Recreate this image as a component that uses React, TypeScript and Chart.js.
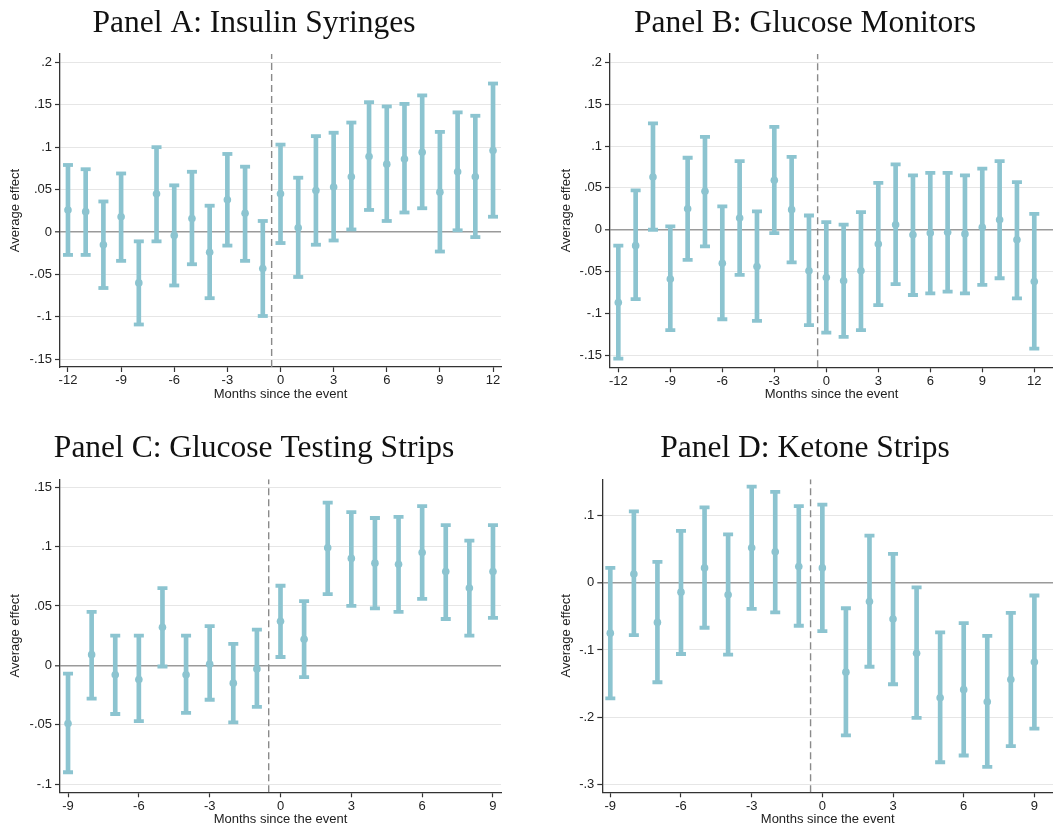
import React, { useEffect, useRef } from "react";
import { Chart, registerables } from "chart.js";

Chart.register(...registerables);

// ---------- data ----------
const monthsLong = [-12, -11, -10, -9, -8, -7, -6, -5, -4, -3, -2, -1, 0, 1, 2, 3, 4, 5, 6, 7, 8, 9, 10, 11, 12];
const monthsShort = [-9, -8, -7, -6, -5, -4, -3, -2, -1, 0, 1, 2, 3, 4, 5, 6, 7, 8, 9];

const aMid = [0.026, 0.024, -0.015, 0.018, -0.060, 0.045, -0.004, 0.016, -0.024, 0.038, 0.022, -0.043, 0.045, 0.005, 0.049, 0.053, 0.065, 0.089, 0.080, 0.086, 0.094, 0.047, 0.071, 0.065, 0.096];
const aLo = [-0.027, -0.027, -0.066, -0.034, -0.109, -0.011, -0.063, -0.038, -0.078, -0.016, -0.034, -0.099, -0.013, -0.053, -0.015, -0.010, 0.003, 0.026, 0.013, 0.023, 0.028, -0.023, 0.002, -0.006, 0.018];
const aHi = [0.079, 0.074, 0.036, 0.069, -0.011, 0.100, 0.055, 0.071, 0.031, 0.092, 0.077, 0.013, 0.103, 0.064, 0.113, 0.117, 0.129, 0.153, 0.148, 0.151, 0.161, 0.118, 0.141, 0.137, 0.175];

const bMid = [-0.087, -0.019, 0.063, -0.059, 0.025, 0.046, -0.040, 0.014, -0.044, 0.059, 0.024, -0.049, -0.057, -0.061, -0.049, -0.017, 0.006, -0.006, -0.004, -0.003, -0.005, 0.003, 0.012, -0.012, -0.062];
const bLo = [-0.154, -0.083, 0.000, -0.120, -0.036, -0.020, -0.107, -0.054, -0.109, -0.004, -0.039, -0.114, -0.123, -0.128, -0.120, -0.090, -0.065, -0.078, -0.076, -0.074, -0.076, -0.066, -0.058, -0.082, -0.142];
const bHi = [-0.019, 0.047, 0.127, 0.004, 0.086, 0.111, 0.028, 0.082, 0.022, 0.123, 0.087, 0.017, 0.009, 0.006, 0.021, 0.056, 0.078, 0.065, 0.068, 0.068, 0.065, 0.073, 0.082, 0.057, 0.019];

const cMid = [-0.049, 0.009, -0.008, -0.012, 0.032, -0.008, 0.001, -0.015, -0.003, 0.037, 0.022, 0.099, 0.090, 0.086, 0.085, 0.095, 0.079, 0.065, 0.079];
const cLo = [-0.090, -0.028, -0.041, -0.047, -0.001, -0.040, -0.029, -0.048, -0.035, 0.007, -0.010, 0.060, 0.050, 0.048, 0.045, 0.056, 0.039, 0.025, 0.040];
const cHi = [-0.007, 0.045, 0.025, 0.025, 0.065, 0.025, 0.033, 0.018, 0.030, 0.067, 0.054, 0.137, 0.129, 0.124, 0.125, 0.134, 0.118, 0.105, 0.118];

const dMid = [-0.075, 0.013, -0.059, -0.014, 0.022, -0.018, 0.052, 0.046, 0.024, 0.022, -0.133, -0.028, -0.054, -0.105, -0.171, -0.159, -0.177, -0.144, -0.118];
const dLo = [-0.172, -0.078, -0.148, -0.106, -0.067, -0.107, -0.039, -0.044, -0.064, -0.072, -0.227, -0.125, -0.151, -0.201, -0.267, -0.257, -0.274, -0.243, -0.217];
const dHi = [0.022, 0.106, 0.031, 0.077, 0.112, 0.072, 0.143, 0.135, 0.114, 0.116, -0.038, 0.070, 0.043, -0.007, -0.074, -0.060, -0.079, -0.045, -0.019];

const xTicksLong = [-12, -9, -6, -3, 0, 3, 6, 9, 12];
const xTicksShort = [-9, -6, -3, 0, 3, 6, 9];

const yTicksAB = [-0.15, -0.1, -0.05, 0, 0.05, 0.1, 0.15, 0.2];
const yLabelsAB = ["-.15", "-.1", "-.05", "0", ".05", ".1", ".15", ".2"];
const yTicksC = [-0.1, -0.05, 0, 0.05, 0.1, 0.15];
const yLabelsC = ["-.1", "-.05", "0", ".05", ".1", ".15"];
const yTicksD = [-0.3, -0.2, -0.1, 0, 0.1];
const yLabelsD = ["-.3", "-.2", "-.1", "0", ".1"];

const eventLine = -0.5;

const titles = [
  "Panel A: Insulin Syringes",
  "Panel B: Glucose Monitors",
  "Panel C: Glucose Testing Strips",
  "Panel D: Ketone Strips",
];

const BAR = "#8cc4d0";

type PanelProps = {
  title: string;
  xs: number[];
  mid: number[];
  lo: number[];
  hi: number[];
  xTicks: number[];
  yTicks: number[];
  yLabels: string[];
  xMin: number;
  xMax: number;
  yMin: number;
  yMax: number;
  left: number;
  top: number;
  width: number;
  height: number;
  padL: number;
  padR: number;
  yW: number;
  xH: number;
  titlePadTop: number;
  titlePadBottom: number;
  xTitlePadBottom: number;
  yTitlePad: number;
};

function Panel(p: PanelProps) {
  const ref = useRef<HTMLCanvasElement | null>(null);
  useEffect(() => {
    if (!ref.current) return;
    const chart = new Chart(ref.current, {
      type: "scatter",
      data: {
        datasets: [
          {
            type: "scatter",
            data: p.xs.map((x, i) => ({ x, y: p.mid[i] })),
            pointStyle: "circle",
            pointRadius: 3.8,
            backgroundColor: BAR,
            borderColor: BAR,
            borderWidth: 0,
          },
          {
            type: "scatter",
            data: p.xs.flatMap((x, i) => [
              { x, y: p.lo[i] },
              { x, y: p.hi[i] },
            ]),
            pointStyle: "line",
            pointRadius: 5,
            borderColor: BAR,
            backgroundColor: BAR,
            borderWidth: 3.8,
          },
          {
            type: "bar",
            data: p.xs.map((x, i) => ({ x, y: [p.lo[i], p.hi[i]] })) as any,
            backgroundColor: BAR,
            borderWidth: 0,
            barThickness: 4,
          } as any,
          {
            type: "line",
            data: [
              { x: eventLine, y: p.yMin },
              { x: eventLine, y: p.yMax },
            ],
            borderColor: "#8a8a8a",
            borderWidth: 1.4,
            borderDash: [7, 4],
            pointRadius: 0,
            fill: false,
          },
        ],
      },
      options: {
        animation: false,
        responsive: false,
        devicePixelRatio: 1,
        events: [],
        layout: { autoPadding: false, padding: { left: p.padL, right: p.padR, top: 0, bottom: 0 } },
        plugins: {
          legend: { display: false },
          tooltip: { enabled: false },
          title: {
            display: true,
            text: p.title,
            color: "#111",
            font: { family: "'Liberation Serif', 'Times New Roman', serif", size: 31.5, weight: "normal", lineHeight: 1 },
            padding: { top: p.titlePadTop, bottom: p.titlePadBottom },
          },
        },
        scales: {
          x: {
            type: "linear",
            min: p.xMin,
            max: p.xMax,
            offset: false,
            afterBuildTicks: (s: any) => {
              s.ticks = p.xTicks.map((v) => ({ value: v }));
            },
            afterFit: (s: any) => {
              s.height = p.xH;
            },
            ticks: {
              autoSkip: false,
              maxRotation: 0,
              padding: 1,
              color: "#222",
              font: { size: 13 },
              callback: (v: any) => String(v),
            },
            grid: {
              offset: false,
              drawOnChartArea: false,
              drawTicks: true,
              tickLength: 5,
              color: "#333",
              tickColor: "#333",
              tickWidth: 1.2,
            },
            border: { display: true, color: "#333", width: 1.3 },
            title: {
              display: true,
              text: "Months since the event",
              color: "#222",
              font: { size: 13, lineHeight: 1.2 },
              padding: { top: 0, bottom: p.xTitlePadBottom },
            },
          },
          y: {
            type: "linear",
            min: p.yMin,
            max: p.yMax,
            beginAtZero: false,
            afterBuildTicks: (s: any) => {
              s.ticks = p.yTicks.map((v) => ({ value: v }));
            },
            afterFit: (s: any) => {
              s.width = p.yW;
            },
            ticks: {
              autoSkip: false,
              padding: 3,
              color: "#222",
              font: { size: 13 },
              callback: (_v: any, i: number) => p.yLabels[i],
            },
            grid: {
              drawTicks: true,
              tickLength: 5,
              tickColor: "#333",
              tickWidth: 1.2,
              color: (ctx: any) => (ctx.tick && Math.abs(ctx.tick.value) < 1e-9 ? "#9a9a9a" : "#e6e6e6"),
              lineWidth: (ctx: any) => (ctx.tick && Math.abs(ctx.tick.value) < 1e-9 ? 1.6 : 1),
            },
            border: { display: true, color: "#333", width: 1.3 },
            title: {
              display: true,
              text: "Average effect",
              color: "#222",
              font: { size: 13, lineHeight: 1.2 },
              padding: { top: p.yTitlePad, bottom: 0 },
            },
          },
        },
      } as any,
    });
    return () => chart.destroy();
  }, []);
  return (
    <canvas
      ref={ref}
      width={p.width}
      height={p.height}
      style={{ position: "absolute", left: p.left, top: p.top, width: p.width, height: p.height }}
    />
  );
}

export default function App() {
  Chart.defaults.font.family = "'Liberation Sans', Arial, sans-serif";
  return (
    <div
      style={{
        position: "absolute",
        left: 0,
        top: 0,
        width: 1053,
        height: 828,
        overflow: "hidden",
        background: "#fff",
      }}
    >
      <Panel
        title={titles[0]}
        xs={monthsLong}
        mid={aMid}
        lo={aLo}
        hi={aHi}
        xTicks={xTicksLong}
        yTicks={yTicksAB}
        yLabels={yLabelsAB}
        xMin={-12.45}
        xMax={12.45}
        yMin={-0.1591}
        yMax={0.2098}
        left={0}
        top={0}
        width={508}
        height={414}
        padL={7}
        padR={7}
        yW={53}
        xH={47}
        titlePadTop={8}
        titlePadBottom={14.5}
        xTitlePadBottom={12}
        yTitlePad={0.2}
      />
      <Panel
        title={titles[1]}
        xs={monthsLong}
        mid={bMid}
        lo={bLo}
        hi={bHi}
        xTicks={xTicksLong}
        yTicks={yTicksAB}
        yLabels={yLabelsAB}
        xMin={-12.48}
        xMax={13.08}
        yMin={-0.1644}
        yMax={0.21}
        left={557}
        top={0}
        width={496}
        height={414}
        padL={0}
        padR={0}
        yW={53}
        xH={46.7}
        titlePadTop={8}
        titlePadBottom={14.5}
        xTitlePadBottom={12}
        yTitlePad={1.2}
      />
      <Panel
        title={titles[2]}
        xs={monthsShort}
        mid={cMid}
        lo={cLo}
        hi={cHi}
        xTicks={xTicksShort}
        yTicks={yTicksC}
        yLabels={yLabelsC}
        xMin={-9.34}
        xMax={9.34}
        yMin={-0.1069}
        yMax={0.1566}
        left={0}
        top={414}
        width={508}
        height={414}
        padL={7}
        padR={7}
        yW={53}
        xH={35.7}
        titlePadTop={18.5}
        titlePadBottom={15.3}
        xTitlePadBottom={0.9}
        yTitlePad={0.2}
      />
      <Panel
        title={titles[3]}
        xs={monthsShort}
        mid={dMid}
        lo={dLo}
        hi={dHi}
        xTicks={xTicksShort}
        yTicks={yTicksD}
        yLabels={yLabelsD}
        xMin={-9.34}
        xMax={9.79}
        yMin={-0.3117}
        yMax={0.1538}
        left={557}
        top={414}
        width={496}
        height={414}
        padL={0}
        padR={0}
        yW={45.3}
        xH={35.7}
        titlePadTop={18.5}
        titlePadBottom={15.3}
        xTitlePadBottom={0.9}
        yTitlePad={1.2}
      />
    </div>
  );
}
